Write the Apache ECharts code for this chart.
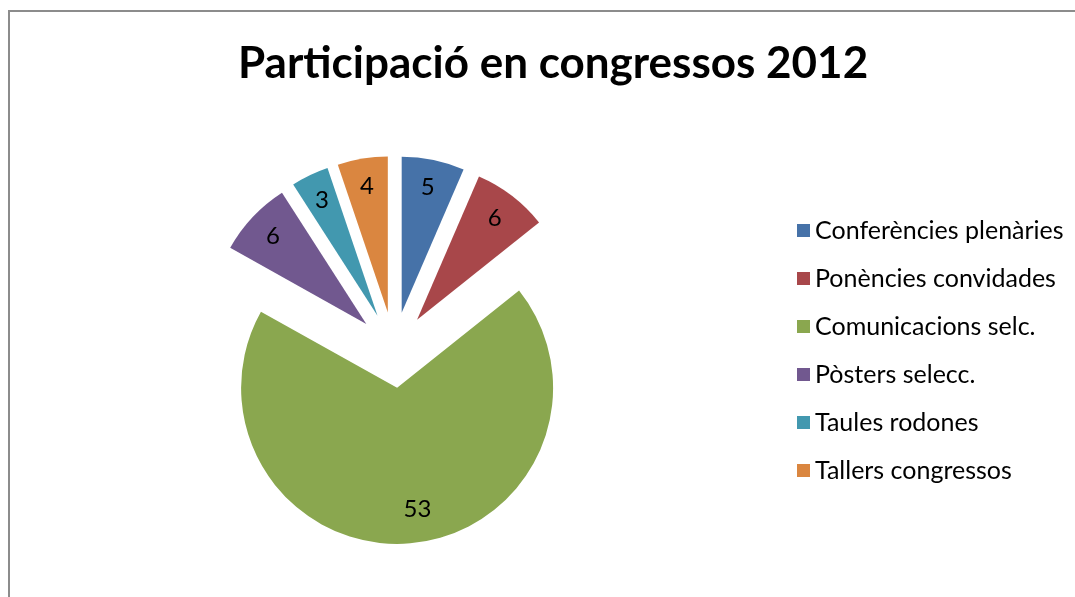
<!DOCTYPE html>
<html>
<head>
<meta charset="utf-8">
<script src="https://cdn.jsdelivr.net/npm/echarts@6/dist/echarts.min.js"></script>
<style>
  html, body { margin: 0; padding: 0; background: #fff; }
  #chart { width: 1075px; height: 597px; }
</style>
</head>
<body>
<div id="chart"></div>
<script>
const categories = [
  "Conferències plenàries",
  "Ponències convidades",
  "Comunicacions selc.",
  "Pòsters selecc.",
  "Taules rodones",
  "Tallers congressos"
];
const values = [5, 6, 53, 6, 3, 4];
const colors = ["#4672A8", "#A8474A", "#8AA74F", "#71588F", "#4298AF", "#DA8640"];

const font = "Lato, 'Open Sans', sans-serif";
const center = [394, 350];
const explode = 38;

const chart = echarts.init(document.getElementById("chart"));

const option = {
  animation: false,
  color: colors,
  title: {
    text: "Participació en congressos 2012",
    left: 233,
    top: 37,
    textStyle: { fontFamily: font, fontWeight: "bold", fontSize: 44, color: "#000" }
  },
  legend: {
    orient: "vertical",
    left: 792,
    top: 213,
    icon: "rect",
    itemWidth: 13,
    itemHeight: 13,
    itemGap: 23,
    selectedMode: false,
    data: categories,
    textStyle: { fontFamily: font, fontSize: 25, color: "#000", lineHeight: 25 }
  },
  graphic: [{
    type: "rect",
    shape: { x: 9, y: 11, width: 1200, height: 800 },
    style: { fill: "none", stroke: "#8c8c8c", lineWidth: 2 },
    silent: true
  }],
  series: [
    {
      type: "pie",
      center: center,
      radius: [0, 156],
      startAngle: 90,
      selectedMode: "multiple",
      selectedOffset: explode,
      label: { show: false },
      labelLine: { show: false },
      emphasis: { disabled: true },
      data: categories.map((name, i) => ({ name: name, value: values[i], selected: true }))
    },
    {
      // transparent ring only used to place the value labels near the rim
      type: "pie",
      center: center,
      radius: [94, 156],
      startAngle: 90,
      silent: true,
      selectedMode: "multiple",
      selectedOffset: explode,
      itemStyle: { color: "transparent" },
      label: {
        show: true,
        position: "inside",
        formatter: "{c}",
        fontFamily: font,
        fontSize: 24,
        color: "#000"
      },
      // Excel nudges the big slice's label a little
      labelLayout: (p) => (p.dataIndex === 2 ? { dx: 10, dy: -6 } : {}),
      labelLine: { show: false },
      emphasis: { disabled: true },
      data: categories.map((name, i) => ({ name: name, value: values[i], selected: true }))
    }
  ]
};

chart.setOption(option);
</script>
</body>
</html>
